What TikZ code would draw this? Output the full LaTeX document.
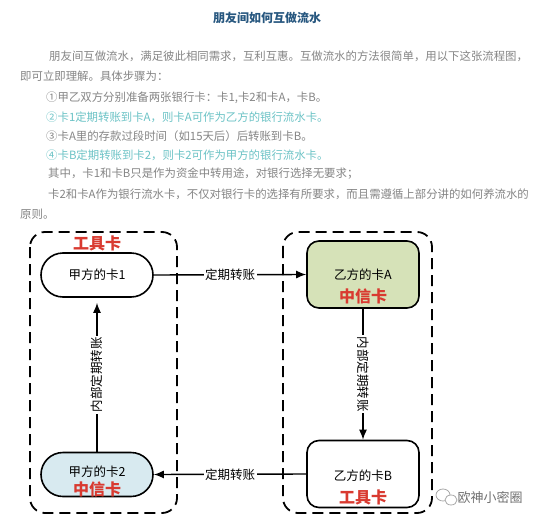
\documentclass[tikz,border=0pt]{standalone}
\usepackage{fontspec}
\setmainfont{Noto Sans CJK SC}
\newfontfamily\cjk{Noto Sans CJK SC}
\usetikzlibrary{arrows.meta}
\definecolor{titleblue}{HTML}{27577F}
\definecolor{txtgray}{HTML}{858585}
\definecolor{txtteal}{HTML}{6CC3C6}
\definecolor{cardred}{HTML}{D93A30}
\definecolor{cardgreen}{HTML}{D6E2B8}
\definecolor{cardblue}{HTML}{D8EAF0}
\definecolor{wmgray}{HTML}{707070}
\tikzset{
  para/.style={anchor=west, inner sep=0pt, font=\fontsize{11.4}{12}\selectfont, text=txtgray},
  paraT/.style={para, text=txtteal},
  groupbox/.style={draw, line width=1.8pt, dash pattern=on 11pt off 6pt, rounded corners=15pt},
  pill/.style={draw, line width=1.6pt, rounded corners=22pt, minimum width=112pt, minimum height=44pt, inner sep=0pt},
  card/.style={draw, line width=1.6pt, rounded corners=12pt, minimum width=112pt, minimum height=67pt, inner sep=0pt},
  cardtxt/.style={inner sep=0pt, font=\fontsize{12.5}{13}\selectfont},
  redtxt/.style={inner sep=0pt, text=cardred, font=\fontsize{16}{17}\selectfont\bfseries},
  arr/.style={line width=1.4pt, -{Latex[length=10pt,width=8pt]}},
  lbl/.style={fill=white, inner sep=1.5pt, font=\fontsize{12.5}{13}\selectfont},
}
\begin{document}
\begin{tikzpicture}[x=1pt,y=-1pt]
\useasboundingbox[fill=white] (0,0) rectangle (540,524);
% title
\node[inner sep=0pt, text=titleblue, font=\fontsize{12}{13}\selectfont\bfseries] (title) at (267,18) {朋友间如何互做流水};
% paragraph
\node[para] (l1) at (49,56) {朋友间互做流水，满足彼此相同需求，互利互惠。互做流水的方法很简单，用以下这张流程图，};
\node[para] (l2) at (20,76) {即可立即理解。具体步骤为：};
\node[para] (l3) at (46,98) {①甲乙双方分别准备两张银行卡：卡1,卡2和卡A，卡B。};
\node[paraT] (l4) at (46,117) {②卡1定期转账到卡A，则卡A可作为乙方的银行流水卡。};
\node[para] (l5) at (46,136) {③卡A里的存款过段时间（如15天后）后转账到卡B。};
\node[paraT] (l6) at (46,155) {④卡B定期转账到卡2，则卡2可作为甲方的银行流水卡。};
\node[para] (l7) at (48,174) {其中，卡1和卡B只是作为资金中转用途，对银行选择无要求；};
\node[para] (l8) at (48,194) {卡2和卡A作为银行流水卡，不仅对银行卡的选择有所要求，而且需遵循上部分讲的如何养流水的};
\node[para] (l9) at (20,214) {原则。};
% group boxes
\draw[groupbox] (30,232) rectangle (177,513);
\draw[groupbox] (283,232) rectangle (432,513);
\node[redtxt] (tool1) at (97,243) {工具卡};
% cards
\node[pill, fill=white] (k1) at (97,275) {};
\node[cardtxt] (k1t) at (97,275) {甲方的卡1};
\node[card, fill=cardgreen] (kA) at (363,274.5) {};
\node[cardtxt] (kAt) at (363,275) {乙方的卡A};
\node[redtxt] (kAr) at (363,296) {中信卡};
\node[pill, fill=cardblue] (k2) at (97,474.5) {};
\node[cardtxt] (k2t) at (97,472) {甲方的卡2};
\node[redtxt] (k2r) at (97,489) {中信卡};
\node[card, fill=white] (kB) at (363,474) {};
\node[cardtxt] (kBt) at (363,476) {乙方的卡B};
\node[redtxt] (kBr) at (363,497) {工具卡};
% connectors
\draw[arr] (k1.east) -- node[lbl] (e1) {定期转账} (kA.west);
\draw[arr] (kA.south) -- node[lbl, rotate=-90] (e2) {内部定期转账} (kB.north);
\draw[arr] (kB.west) -- node[lbl] (e3) {定期转账} (k2.east);
\draw[arr, shorten >=5pt] (k2.north) -- node[lbl, rotate=90] (e4) {内部定期转账} (k1.south);
% watermark
\draw[wmgray!60, line width=0.8pt] (443,495) ellipse (7pt and 6pt);
\draw[wmgray!60, line width=0.8pt, fill=white] (451,500) ellipse (6pt and 5pt);
\node[inner sep=0pt, text=wmgray, font=\fontsize{13}{14}\selectfont] (wm) at (490,498) {欧神小密圈};
\end{tikzpicture}
\end{document}
